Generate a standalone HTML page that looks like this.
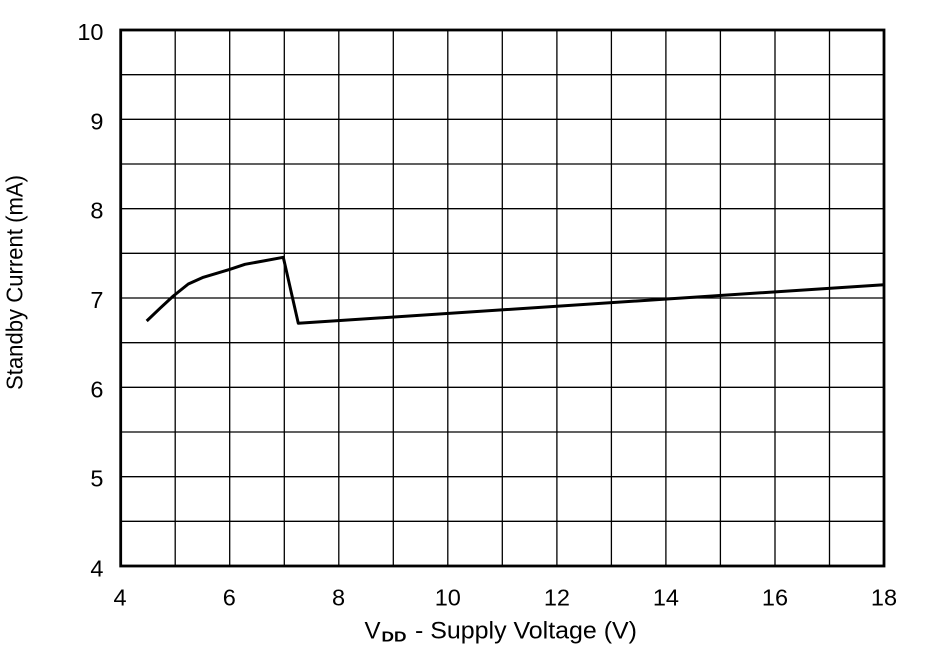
<!DOCTYPE html>
<html>
<head>
<meta charset="utf-8">
<style>
  html, body { margin: 0; padding: 0; background: #ffffff; }
  body { width: 930px; height: 657px; overflow: hidden; }
  svg { display: block; }
  text { font-family: "Liberation Sans", Arial, sans-serif; fill: #000; }
</style>
</head>
<body>
<svg width="930" height="657" viewBox="0 0 930 657" xmlns="http://www.w3.org/2000/svg">
  <rect x="0" y="0" width="930" height="657" fill="#ffffff"/>
  <!-- grid -->
  <g stroke="#000" stroke-width="1.3" fill="none">
    <line x1="175.2" y1="30" x2="175.2" y2="566"/>
    <line x1="229.7" y1="30" x2="229.7" y2="566"/>
    <line x1="284.3" y1="30" x2="284.3" y2="566"/>
    <line x1="338.8" y1="30" x2="338.8" y2="566"/>
    <line x1="393.3" y1="30" x2="393.3" y2="566"/>
    <line x1="447.8" y1="30" x2="447.8" y2="566"/>
    <line x1="502.3" y1="30" x2="502.3" y2="566"/>
    <line x1="556.9" y1="30" x2="556.9" y2="566"/>
    <line x1="611.4" y1="30" x2="611.4" y2="566"/>
    <line x1="665.9" y1="30" x2="665.9" y2="566"/>
    <line x1="720.4" y1="30" x2="720.4" y2="566"/>
    <line x1="775.0" y1="30" x2="775.0" y2="566"/>
    <line x1="829.5" y1="30" x2="829.5" y2="566"/>

    <line x1="120.7" y1="74.7" x2="884" y2="74.7"/>
    <line x1="120.7" y1="119.3" x2="884" y2="119.3"/>
    <line x1="120.7" y1="164.0" x2="884" y2="164.0"/>
    <line x1="120.7" y1="208.7" x2="884" y2="208.7"/>
    <line x1="120.7" y1="253.3" x2="884" y2="253.3"/>
    <line x1="120.7" y1="298.0" x2="884" y2="298.0"/>
    <line x1="120.7" y1="342.7" x2="884" y2="342.7"/>
    <line x1="120.7" y1="387.3" x2="884" y2="387.3"/>
    <line x1="120.7" y1="432.0" x2="884" y2="432.0"/>
    <line x1="120.7" y1="476.7" x2="884" y2="476.7"/>
    <line x1="120.7" y1="521.3" x2="884" y2="521.3"/>
  </g>
  <!-- frame -->
  <rect x="120.7" y="30" width="763.3" height="536" fill="none" stroke="#000" stroke-width="2.8"/>

  <!-- data -->
  <polyline fill="none" stroke="#000" stroke-width="3" stroke-linejoin="round"
    points="146.7,321 160,308.3 173.3,296 188.3,284 203.3,277.3 216.7,273.3 230,269.3 245,264.3 263.3,261 283.3,257.3 298.3,323.3 884,284.7"/>

  <!-- y tick labels -->
  <g font-size="23.5" text-anchor="end">
    <text x="103.5" y="40">10</text>
    <text x="103.5" y="129.3">9</text>
    <text x="103.5" y="218.7">8</text>
    <text x="103.5" y="308">7</text>
    <text x="103.5" y="397.3">6</text>
    <text x="103.5" y="486.7">5</text>
    <text x="103.5" y="576.5">4</text>
  </g>
  <!-- x tick labels -->
  <g font-size="23.5" text-anchor="middle">
    <text x="120" y="605.5">4</text>
    <text x="229.3" y="605.5">6</text>
    <text x="338.5" y="605.5">8</text>
    <text x="447.8" y="605.5">10</text>
    <text x="556.9" y="605.5">12</text>
    <text x="665.9" y="605.5">14</text>
    <text x="775.0" y="605.5">16</text>
    <text x="884" y="605.5">18</text>
  </g>

  <!-- x title -->
  <text x="364.5" y="638.7" font-size="24">V</text>
  <text x="381.5" y="641.3" font-size="15" font-weight="bold" textLength="25" lengthAdjust="spacingAndGlyphs">DD</text>
  <text x="415" y="638.7" font-size="24" textLength="222" lengthAdjust="spacingAndGlyphs">- Supply Voltage (V)</text>

  <!-- y title -->
  <text transform="translate(22.5,390) rotate(-90)" x="0" y="0" font-size="23.5" textLength="215" lengthAdjust="spacingAndGlyphs">Standby Current (mA)</text>
</svg>
</body>
</html>
